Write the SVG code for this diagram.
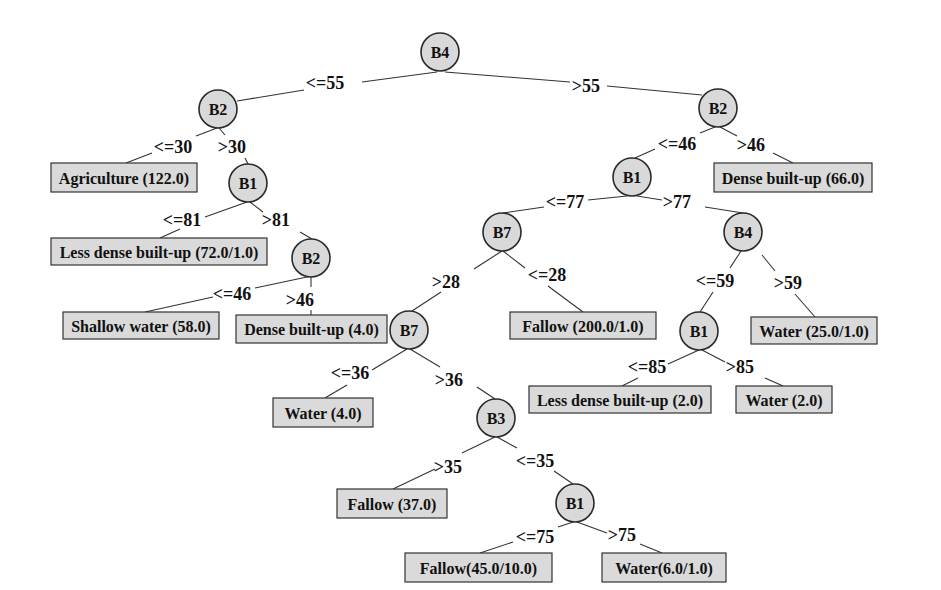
<svg xmlns="http://www.w3.org/2000/svg" width="941" height="590" viewBox="0 0 941 590">
<style>
  .n circle { fill: #d9d9d9; stroke: #2a2a2a; stroke-width: 1.6; }
  .n text { font-family: "Liberation Serif", "Times New Roman", serif; font-weight: bold; font-size: 16px; fill: #111; text-anchor: middle; }
  .l rect { fill: #dadada; stroke: #333; stroke-width: 1.2; }
  .l text { font-family: "Liberation Serif", "Times New Roman", serif; font-weight: bold; font-size: 16px; fill: #111; text-anchor: middle; }
  .e line { stroke: #333; stroke-width: 1.1; }
  .e text { font-family: "Liberation Serif", "Times New Roman", serif; font-weight: bold; font-size: 18px; fill: #111; text-anchor: middle; }
</style>
<rect x="0" y="0" width="941" height="590" fill="#ffffff"/>
<g id="connectors" class="e">
  <line x1="437" y1="72" x2="362" y2="82"/><text x="325" y="89">&lt;=55</text><line x1="304" y1="90" x2="237" y2="101"/>
  <line x1="445" y1="72" x2="570" y2="82"/><text x="586" y="92">&gt;55</text><line x1="607" y1="86" x2="702" y2="95"/>
  <line x1="217" y1="128" x2="196" y2="136"/><text x="173" y="153">&lt;=30</text><line x1="152" y1="153" x2="126" y2="163"/>
  <line x1="219" y1="128" x2="225" y2="135"/><text x="232" y="153">&gt;30</text><line x1="245" y1="158" x2="248" y2="164"/>
  <line x1="247" y1="202" x2="205" y2="217"/><text x="182" y="226">&lt;=81</text><line x1="180" y1="229" x2="160" y2="238"/>
  <line x1="250" y1="202" x2="263" y2="212"/><text x="276" y="226">&gt;81</text><line x1="300" y1="232" x2="312" y2="239"/>
  <line x1="307" y1="277" x2="255" y2="288"/><text x="232" y="300">&lt;=46</text><line x1="213" y1="297" x2="145" y2="312"/>
  <line x1="311" y1="277" x2="311" y2="287"/><text x="300" y="306">&gt;46</text><line x1="311" y1="310" x2="311" y2="315"/>
  <line x1="715" y1="127" x2="700" y2="133"/><text x="677" y="150">&lt;=46</text><line x1="655" y1="149" x2="635" y2="158"/>
  <line x1="720" y1="127" x2="737" y2="136"/><text x="751" y="151">&gt;46</text><line x1="773" y1="153" x2="793" y2="163"/>
  <line x1="627" y1="196" x2="588" y2="200"/><text x="565" y="208">&lt;=77</text><line x1="544" y1="207" x2="503" y2="213"/>
  <line x1="637" y1="196" x2="662" y2="200"/><text x="677" y="208">&gt;77</text><line x1="705" y1="207" x2="743" y2="213"/>
  <line x1="502" y1="251" x2="474" y2="269"/><text x="446" y="288">&gt;28</text><line x1="441" y1="292" x2="412" y2="311"/>
  <line x1="503" y1="251" x2="525" y2="268"/><text x="547" y="281">&lt;=28</text><line x1="548" y1="286" x2="583" y2="312"/>
  <line x1="741" y1="251" x2="730" y2="268"/><text x="715" y="287">&lt;=59</text><line x1="713" y1="292" x2="700" y2="312"/>
  <line x1="762" y1="255" x2="775" y2="271"/><text x="788" y="289">&gt;59</text><line x1="795" y1="294" x2="815" y2="317"/>
  <line x1="407" y1="349" x2="372" y2="370"/><text x="350" y="379">&lt;=36</text><line x1="347" y1="385" x2="325" y2="398"/>
  <line x1="410" y1="349" x2="440" y2="367"/><text x="449" y="386">&gt;36</text><line x1="477" y1="387" x2="495" y2="399"/>
  <line x1="699" y1="350" x2="668" y2="364"/><text x="647" y="373">&lt;=85</text><line x1="638" y1="378" x2="622" y2="386"/>
  <line x1="702" y1="350" x2="725" y2="362"/><text x="740" y="373">&gt;85</text><line x1="765" y1="378" x2="783" y2="386"/>
  <line x1="495" y1="437" x2="462" y2="453"/><text x="448" y="473">&gt;35</text><line x1="435" y1="469" x2="393" y2="489"/>
  <line x1="497" y1="437" x2="517" y2="448"/><text x="535" y="467">&lt;=35</text><line x1="554" y1="471" x2="573" y2="484"/>
  <line x1="573" y1="522" x2="558" y2="527"/><text x="535" y="543">&lt;=75</text><line x1="513" y1="542" x2="480" y2="553"/>
  <line x1="577" y1="522" x2="607" y2="533"/><text x="622" y="541">&gt;75</text><line x1="640" y1="544" x2="662" y2="553"/>
</g>
<g id="n-root" class="n"><circle cx="440" cy="52" r="19"/><text x="440" y="57.5">B4</text></g>
<g id="n-b2l" class="n"><circle cx="218" cy="109" r="19"/><text x="218" y="114.5">B2</text></g>
<g id="n-b1l" class="n"><circle cx="248" cy="183" r="19"/><text x="248" y="188.5">B1</text></g>
<g id="n-b2ll" class="n"><circle cx="311" cy="258" r="19"/><text x="311" y="263.5">B2</text></g>
<g id="n-b7low" class="n"><circle cx="409" cy="330" r="19"/><text x="409" y="335.5">B7</text></g>
<g id="n-b3" class="n"><circle cx="496" cy="418" r="19"/><text x="496" y="423.5">B3</text></g>
<g id="n-b1bot" class="n"><circle cx="575" cy="503" r="19"/><text x="575" y="508.5">B1</text></g>
<g id="n-b2r" class="n"><circle cx="718" cy="108" r="19"/><text x="718" y="113.5">B2</text></g>
<g id="n-b1r" class="n"><circle cx="632" cy="177" r="19"/><text x="632" y="182.5">B1</text></g>
<g id="n-b7up" class="n"><circle cx="502" cy="232" r="19"/><text x="502" y="237.5">B7</text></g>
<g id="n-b4r" class="n"><circle cx="743" cy="232" r="19"/><text x="743" y="237.5">B4</text></g>
<g id="n-b1rr" class="n"><circle cx="699" cy="331" r="19"/><text x="699" y="336.5">B1</text></g>
<g id="leaf-agri" class="l"><rect x="51" y="163" width="146" height="29"/><text x="124" y="183.5">Agriculture (122.0)</text></g>
<g id="leaf-ldb72" class="l"><rect x="51" y="238" width="216" height="27"/><text x="159" y="257.5">Less dense built-up (72.0/1.0)</text></g>
<g id="leaf-shallow" class="l"><rect x="63" y="312" width="156" height="27"/><text x="141" y="331.5">Shallow water (58.0)</text></g>
<g id="leaf-dense4" class="l"><rect x="236" y="315" width="151" height="28"/><text x="311.5" y="335">Dense built-up (4.0)</text></g>
<g id="leaf-water4" class="l"><rect x="273" y="398" width="100" height="29"/><text x="323" y="418.5">Water (4.0)</text></g>
<g id="leaf-fallow37" class="l"><rect x="337" y="489" width="110" height="29"/><text x="392" y="509.5">Fallow (37.0)</text></g>
<g id="leaf-fallow45" class="l"><rect x="405" y="553" width="147" height="29"/><text x="478.5" y="573.5">Fallow(45.0/10.0)</text></g>
<g id="leaf-water6" class="l"><rect x="602" y="553" width="124" height="29"/><text x="664" y="573.5">Water(6.0/1.0)</text></g>
<g id="leaf-fallow200" class="l"><rect x="510" y="312" width="146" height="27"/><text x="583" y="331.5">Fallow (200.0/1.0)</text></g>
<g id="leaf-ldb2" class="l"><rect x="529" y="386" width="182" height="27"/><text x="620" y="405.5">Less dense built-up (2.0)</text></g>
<g id="leaf-water2" class="l"><rect x="736" y="386" width="96" height="27"/><text x="784" y="405.5">Water (2.0)</text></g>
<g id="leaf-water25" class="l"><rect x="751" y="317" width="126" height="27"/><text x="814" y="336.5">Water (25.0/1.0)</text></g>
<g id="leaf-dense66" class="l"><rect x="714" y="163" width="158" height="29"/><text x="793" y="183.5">Dense built-up (66.0)</text></g>
</svg>
